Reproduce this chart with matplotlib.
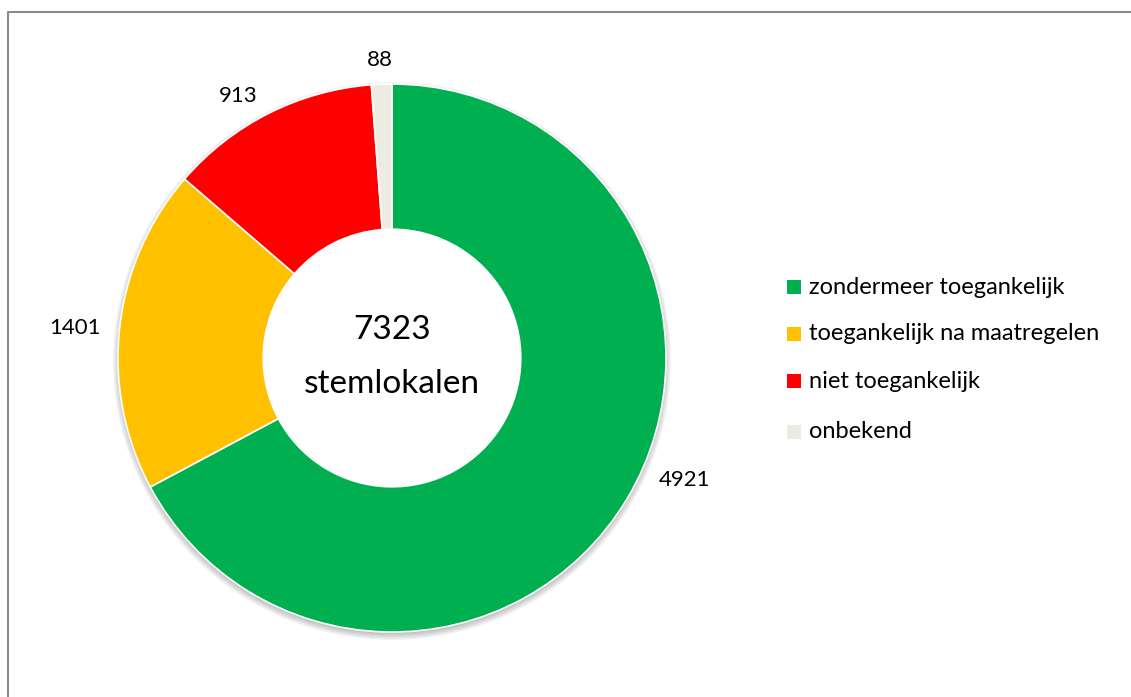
import numpy as np
import matplotlib.pyplot as plt
from matplotlib.patches import Circle, Rectangle
from matplotlib.lines import Line2D

plt.rcParams['font.family'] = ['Lato', 'DejaVu Sans']

categories = ["zondermeer toegankelijk", "toegankelijk na maatregelen",
              "niet toegankelijk", "onbekend"]
counts = [4921, 1401, 913, 88]
colors = ["#00B050", "#FFC000", "#FF0000", "#EEECE1"]
total = sum(counts)

# pixel-based layout (y counted from the bottom)
W, H = 1131, 697
fig = plt.figure(figsize=(W/100, H/100), dpi=100)
ax = fig.add_axes([0, 0, 1, 1])

cx, cy, R = 392, H - 358, 274
hole = 0.47

# soft shadow below the ring, hole kept white
for i in range(5):
    ax.add_patch(Circle((cx, cy - 3), R + 5 - i*1.5, color="k", alpha=0.05, lw=0, zorder=0))
ax.add_patch(Circle((cx, cy), R*hole, color="white", lw=0, zorder=0.5))

ax.pie(counts, colors=colors, startangle=90, counterclock=False,
       center=(cx, cy), radius=R, frame=True,
       wedgeprops=dict(width=R*(1 - hole), edgecolor="white", linewidth=1.2))
ax.set_xlim(0, W); ax.set_ylim(0, H)
ax.set_aspect("equal"); ax.axis("off")

# value labels around the ring
label_pos = [(685, 480), (75, 328), (238, 96), (380, 60)]
for v, (x, y) in zip(counts, label_pos):
    ax.text(x, H - y, str(v), ha="center", va="center", fontsize=16)

ax.text(cx, H - 330, str(total), ha="center", va="center", fontsize=24)
ax.text(cx, H - 384, "stemlokalen", ha="center", va="center", fontsize=24)

# legend
leg_y = [287, 334, 381, 432]
for lab, c, y in zip(categories, colors, leg_y):
    ax.add_patch(Rectangle((787, H - y - 7), 14, 14, color=c, lw=0))
    ax.text(809, H - y, lab, ha="left", va="center", fontsize=17)

# chart frame (left and top edges visible)
ax.add_line(Line2D([8, 8, W], [0, H - 12, H - 12], color="#8a8a8a", lw=1.5))

fig.savefig("out.png", dpi=100)
